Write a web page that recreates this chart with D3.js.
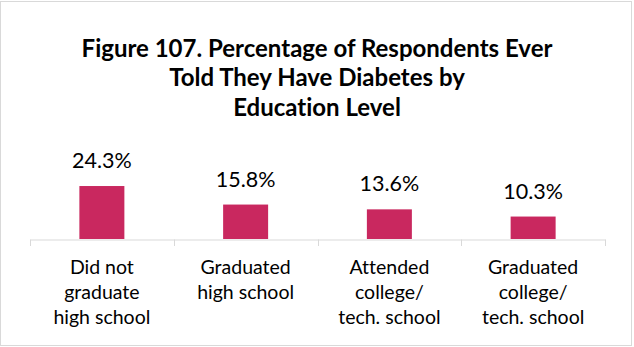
<!DOCTYPE html>
<html><head><meta charset="utf-8">
<script src="https://cdn.jsdelivr.net/npm/d3@7"></script>
<style>body{margin:0;background:#fff}svg{display:block}text{font-variant-ligatures:none;font-feature-settings:"liga" 0}</style>
</head><body>
<script>
const titleLines = ["Figure 107. Percentage of Respondents Ever", "Told They Have Diabetes by", "Education Level"];
const categories = [["Did not","graduate","high school"],["Graduated","high school"],["Attended","college/","tech. school"],["Graduated","college/","tech. school"]];
const values = [24.3, 15.8, 13.6, 10.3];
const valueLabels = ["24.3%","15.8%","13.6%","10.3%"];

const W = 634, H = 347;
const svg = d3.select("body").append("svg").attr("width", W).attr("height", H);
svg.append("rect").attr("x",0.5).attr("y",1.5).attr("width",631).attr("height",344)
  .attr("fill","#fff").attr("stroke","#d9d9d9");

const font = "Lato, 'Open Sans', sans-serif";
svg.append("g").selectAll("text").data(titleLines).join("text")
  .attr("x", 317).attr("y", (d,i)=>56.5 + i*29.5)
  .attr("text-anchor","middle").attr("font-family",font).attr("font-weight","bold")
  .attr("font-size",24).attr("fill","#000").text(d=>d);

const x = d3.scaleBand().domain(d3.range(values.length)).range([30,605]).paddingInner(0).paddingOuter(0);
const y = d3.scaleLinear().domain([0, 30]).range([239, 239 - 2.18*30]);
const bw = 45;

svg.append("g").selectAll("rect").data(values).join("rect")
  .attr("x",(d,i)=>x(i)+x.bandwidth()/2-bw/2).attr("width",bw)
  .attr("y",d=>y(d)).attr("height",d=>y(0)-y(d)).attr("fill","#c9285f");

const axis = d3.axisBottom(x).tickSize(0).tickFormat("");
const ag = svg.append("g").attr("transform","translate(0,239.5)").call(axis);
ag.select(".domain").attr("stroke","#d9d9d9");
ag.selectAll(".tick").remove();
const edges = d3.range(values.length+1).map(i => i < values.length ? x(i) : x(values.length-1)+x.bandwidth());
svg.append("g").selectAll("line").data(edges).join("line")
  .attr("x1",d=>Math.round(d)+0.5).attr("x2",d=>Math.round(d)+0.5)
  .attr("y1",239.5).attr("y2",246).attr("stroke","#d9d9d9");

svg.append("g").selectAll("text").data(values).join("text")
  .attr("x",(d,i)=>x(i)+x.bandwidth()/2).attr("y",d=>y(d)-18)
  .attr("text-anchor","middle").attr("font-family",font).attr("font-size",21.5).attr("fill","#000")
  .text((d,i)=>valueLabels[i]);

const cg = svg.append("g").selectAll("text").data(categories).join("text")
  .attr("text-anchor","middle").attr("font-family",font).attr("font-size",19.5).attr("fill","#000");
cg.selectAll("tspan").data((d,i)=>d.map(s=>({s,i}))).join("tspan")
  .attr("x",d=>x(d.i)+x.bandwidth()/2).attr("y",(d,j)=>274 + j*25).text(d=>d.s);
</script>
</body></html>
